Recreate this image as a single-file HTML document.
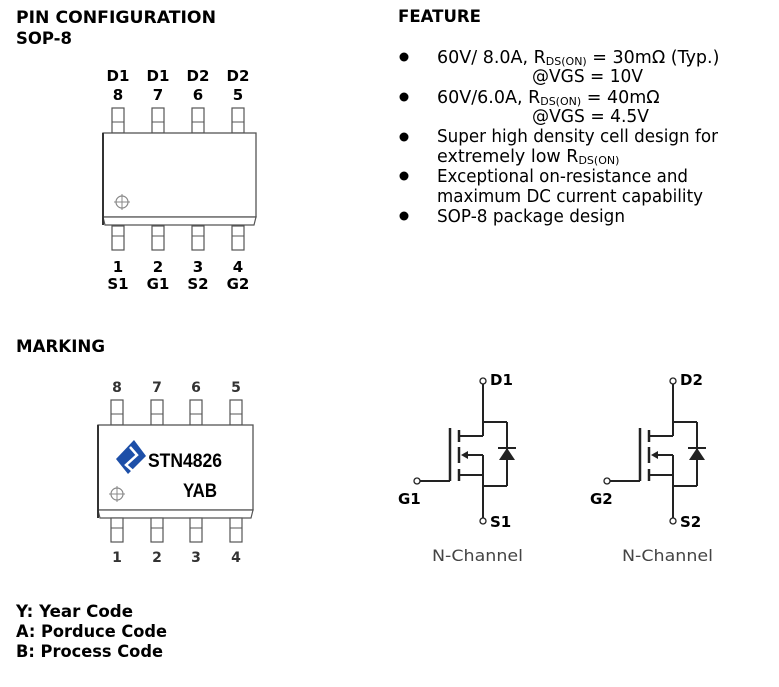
<!DOCTYPE html>
<html><head><meta charset="utf-8"><style>
html,body{margin:0;padding:0;background:#fff;}
svg{display:block;}
</style></head><body>
<svg width="779" height="687" viewBox="0 0 779 687" xmlns="http://www.w3.org/2000/svg">
<defs>
<g id="pinT"><rect x="-6" y="0" width="12" height="25" fill="#fff" stroke="#555" stroke-width="1.2"/><line x1="-6" y1="14" x2="6" y2="14" stroke="#555" stroke-width="1"/></g>
<g id="pinB"><rect x="-6" y="0" width="12" height="24" fill="#fff" stroke="#555" stroke-width="1.2"/><line x1="-6" y1="10" x2="6" y2="10" stroke="#555" stroke-width="1"/></g>
<g id="tgt"><circle cx="0" cy="0" r="6" fill="none" stroke="#888" stroke-width="1.2"/><line x1="-8" y1="0" x2="8" y2="0" stroke="#888"/><line x1="0" y1="-8" x2="0" y2="8" stroke="#888"/></g>
<g id="fet" stroke="#222" stroke-width="2" fill="none">
<circle cx="483" cy="381" r="3" stroke-width="1.3" fill="#fff"/>
<line x1="483" y1="384" x2="483" y2="436"/>
<line x1="483" y1="422" x2="507" y2="422"/>
<line x1="507" y1="422" x2="507" y2="486"/>
<line x1="483" y1="486" x2="507" y2="486"/>
<polygon points="499,460 515,460 507,448" fill="#222" stroke="none"/>
<line x1="498" y1="448" x2="516" y2="448"/>
<line x1="450" y1="428" x2="450" y2="481" stroke-width="2.5"/>
<line x1="459" y1="430" x2="459" y2="442" stroke-width="2.5"/>
<line x1="459" y1="447" x2="459" y2="463" stroke-width="2.5"/>
<line x1="459" y1="469" x2="459" y2="481" stroke-width="2.5"/>
<line x1="459" y1="436" x2="483" y2="436"/>
<line x1="464" y1="455" x2="483" y2="455"/>
<polygon points="461,455 468,451 468,459" fill="#222" stroke="none"/>
<line x1="483" y1="455" x2="483" y2="518"/>
<line x1="459" y1="475" x2="483" y2="475"/>
<line x1="420" y1="481" x2="450" y2="481"/>
<circle cx="417" cy="481" r="3" stroke-width="1.3" fill="#fff"/>
<circle cx="483" cy="521" r="3" stroke-width="1.3" fill="#fff"/>
</g>
</defs>

<g font-family="DejaVu Sans, Liberation Sans, sans-serif" font-weight="bold" font-size="17" fill="#000">
<text x="16" y="23" textLength="200" lengthAdjust="spacingAndGlyphs">PIN CONFIGURATION</text>
<text x="16" y="44" textLength="56" lengthAdjust="spacingAndGlyphs">SOP-8</text>
<text x="398" y="22" textLength="83" lengthAdjust="spacingAndGlyphs">FEATURE</text>
<text x="16" y="352" textLength="89" lengthAdjust="spacingAndGlyphs">MARKING</text>
<text x="16" y="617" textLength="117" lengthAdjust="spacingAndGlyphs">Y: Year Code</text>
<text x="16" y="637" textLength="151" lengthAdjust="spacingAndGlyphs">A: Porduce Code</text>
<text x="16" y="657" textLength="147" lengthAdjust="spacingAndGlyphs">B: Process Code</text>
</g>

<!-- top chip -->
<g font-family="DejaVu Sans, sans-serif" font-weight="bold" font-size="15" text-anchor="middle">
<text x="118" y="81">D1</text><text x="158" y="81">D1</text><text x="198" y="81">D2</text><text x="238" y="81">D2</text>
<text x="118" y="100">8</text><text x="158" y="100">7</text><text x="198" y="100">6</text><text x="238" y="100">5</text>
<text x="118" y="272">1</text><text x="158" y="272">2</text><text x="198" y="272">3</text><text x="238" y="272">4</text>
<text x="118" y="289">S1</text><text x="158" y="289">G1</text><text x="198" y="289">S2</text><text x="238" y="289">G2</text>
</g>
<use href="#pinT" x="118" y="108"/><use href="#pinT" x="158" y="108"/><use href="#pinT" x="198" y="108"/><use href="#pinT" x="238" y="108"/>
<rect x="103" y="133" width="153" height="84" fill="#fff" stroke="#555" stroke-width="1.3"/>
<polygon points="103,217 256,217 254,225 105,225" fill="#fff" stroke="#555" stroke-width="1.2"/>
<line x1="103" y1="133" x2="103" y2="225" stroke="#333" stroke-width="2"/>
<use href="#tgt" x="122" y="202"/>
<use href="#pinB" x="118" y="226"/><use href="#pinB" x="158" y="226"/><use href="#pinB" x="198" y="226"/><use href="#pinB" x="238" y="226"/>

<!-- marking chip -->
<g font-family="DejaVu Sans, sans-serif" font-weight="bold" font-size="14" text-anchor="middle" fill="#333">
<text x="117" y="392">8</text><text x="157" y="392">7</text><text x="196" y="392">6</text><text x="236" y="392">5</text>
<text x="117" y="562">1</text><text x="157" y="562">2</text><text x="196" y="562">3</text><text x="236" y="562">4</text>
</g>
<use href="#pinT" x="117" y="400"/><use href="#pinT" x="157" y="400"/><use href="#pinT" x="196" y="400"/><use href="#pinT" x="236" y="400"/>
<rect x="98" y="425" width="155" height="85" fill="#fff" stroke="#555" stroke-width="1.3"/>
<polygon points="98,510 253,510 251,518 100,518" fill="#fff" stroke="#555" stroke-width="1.2"/>
<line x1="98" y1="425" x2="98" y2="518" stroke="#333" stroke-width="2"/>
<use href="#tgt" x="117" y="494"/>
<use href="#pinB" x="117" y="518"/><use href="#pinB" x="157" y="518"/><use href="#pinB" x="196" y="518"/><use href="#pinB" x="236" y="518"/>
<g transform="translate(131,458)">
<polygon points="-15,1 3,-18 15,-2 -3,16" fill="#1d4fa8"/>
<path d="M-1,-11 L6,-3 L-5,7 L3,14" stroke="#fff" stroke-width="2.5" fill="none"/>
</g>
<text x="148" y="467" font-family="Liberation Sans,sans-serif" font-weight="bold" font-size="19" textLength="74" lengthAdjust="spacingAndGlyphs">STN4826</text>
<text x="183" y="497" font-family="Liberation Sans,sans-serif" font-weight="bold" font-size="19" textLength="34" lengthAdjust="spacingAndGlyphs">YAB</text>

<!-- features -->
<g fill="#000">
<circle cx="404" cy="57" r="4.5"/><circle cx="404" cy="97" r="4.5"/><circle cx="404" cy="137" r="4.5"/><circle cx="404" cy="176" r="4.5"/><circle cx="404" cy="216" r="4.5"/>
</g>
<g font-family="DejaVu Sans, Liberation Sans, sans-serif" font-size="17.5" fill="#000">
<text x="437" y="63">60V/ 8.0A, R<tspan font-size="11" dy="2">DS(ON)</tspan><tspan dy="-2"> = 30mΩ (Typ.)</tspan></text>
<text x="532" y="82" textLength="111" lengthAdjust="spacingAndGlyphs">@VGS = 10V</text>
<text x="437" y="103">60V/6.0A, R<tspan font-size="11" dy="2">DS(ON)</tspan><tspan dy="-2"> = 40mΩ</tspan></text>
<text x="532" y="122" textLength="117" lengthAdjust="spacingAndGlyphs">@VGS = 4.5V</text>
<text x="437" y="142" textLength="281" lengthAdjust="spacingAndGlyphs">Super high density cell design for</text>
<text x="437" y="162">extremely low R<tspan font-size="11" dy="2">DS(ON)</tspan></text>
<text x="437" y="182" textLength="251" lengthAdjust="spacingAndGlyphs">Exceptional on-resistance and</text>
<text x="437" y="202" textLength="266" lengthAdjust="spacingAndGlyphs">maximum DC current capability</text>
<text x="437" y="222" textLength="188" lengthAdjust="spacingAndGlyphs">SOP-8 package design</text>
</g>

<!-- mosfets -->
<use href="#fet"/>
<use href="#fet" x="190"/>
<g font-family="DejaVu Sans, sans-serif" font-weight="bold" font-size="15">
<text x="490" y="385">D1</text><text x="680" y="385">D2</text>
<text x="490" y="527">S1</text><text x="680" y="527">S2</text>
<text x="398" y="504">G1</text><text x="590" y="504">G2</text>
</g>
<text x="432" y="561" font-family="DejaVu Sans,sans-serif" font-size="16" fill="#444" textLength="91" lengthAdjust="spacingAndGlyphs">N-Channel</text>
<text x="622" y="561" font-family="DejaVu Sans,sans-serif" font-size="16" fill="#444" textLength="91" lengthAdjust="spacingAndGlyphs">N-Channel</text>
</svg>
</body></html>
